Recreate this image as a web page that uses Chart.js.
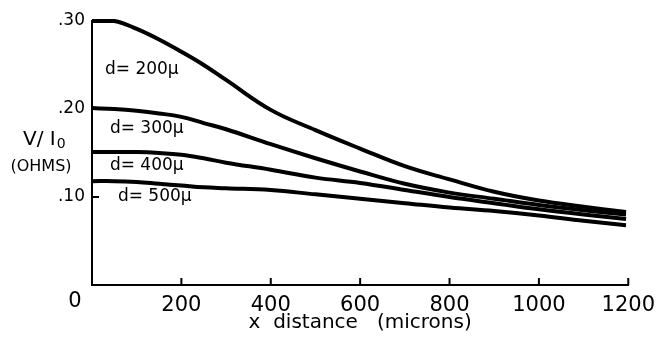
<!DOCTYPE html>
<html lang="en">
<head>
<meta charset="UTF-8">
<title>V/I0 vs x distance</title>
<script src="https://cdn.jsdelivr.net/npm/chart.js"></script>
<style>
  body { margin: 0; background: #fff; }
  #wrap { width: 663px; height: 337px; }
</style>
</head>
<body>
<div id="wrap"><canvas id="myChart" width="663" height="337"></canvas></div>
<script>
  // x positions (microns) where the curves were read
  const xValues = [0, 50, 100, 150, 200, 250, 300, 400, 500, 600, 700, 800, 900, 1000, 1100, 1195];
  // V/I0 (ohms) for each electrode spacing
  const d200 = [0.300, 0.300, 0.291, 0.279, 0.265, 0.250, 0.233, 0.199, 0.176, 0.155, 0.135, 0.120, 0.106, 0.096, 0.089, 0.083];
  const d300 = [0.201, 0.200, 0.198, 0.195, 0.191, 0.184, 0.177, 0.160, 0.144, 0.129, 0.115, 0.105, 0.098, 0.091, 0.085, 0.080];
  const d400 = [0.151, 0.151, 0.151, 0.150, 0.148, 0.144, 0.139, 0.131, 0.122, 0.116, 0.108, 0.100, 0.093, 0.086, 0.080, 0.075];
  const d500 = [0.118, 0.118, 0.117, 0.115, 0.113, 0.111, 0.110, 0.108, 0.103, 0.098, 0.093, 0.088, 0.084, 0.079, 0.073, 0.068];
  const seriesLabels = ['d= 200\u00b5', 'd= 300\u00b5', 'd= 400\u00b5', 'd= 500\u00b5'];
  const xTicks = [0, 200, 400, 600, 800, 1000, 1200];
  const yTickLabels = ['.10', '.20', '.30'];

  const FONT = '"DejaVu Sans", sans-serif';
  Chart.defaults.font.family = FONT;
  Chart.defaults.color = '#000';

  const toPoints = arr => xValues.map((xv, i) => ({ x: xv, y: arr[i] }));
  const allSeries = [d200, d300, d400, d500];

  // text placed next to each curve, in data space (x microns, y ohms)
  const labelAnchors = [[29, 0.245], [40, 0.178], [40, 0.136], [58, 0.100]];

  const extras = {
    id: 'extras',
    afterDraw(chart) {
      const { ctx, scales: { x, y } } = chart;
      ctx.save();
      ctx.strokeStyle = '#000';
      ctx.lineWidth = 2;
      // tick marks point inward
      xTicks.forEach(v => {
        if (v === 0) return;
        const px = x.getPixelForValue(v);
        ctx.beginPath(); ctx.moveTo(px, y.bottom); ctx.lineTo(px, y.bottom - 7); ctx.stroke();
      });
      [0.1, 0.2, 0.3].forEach(v => {
        const py = y.getPixelForValue(v);
        ctx.beginPath(); ctx.moveTo(x.left, py); ctx.lineTo(x.left + 7, py); ctx.stroke();
      });

      ctx.fillStyle = '#000';
      ctx.textBaseline = 'middle';

      // curve labels
      ctx.font = '17px ' + FONT;
      ctx.textAlign = 'left';
      seriesLabels.forEach((t, i) => {
        ctx.fillText(t, x.getPixelForValue(labelAnchors[i][0]), y.getPixelForValue(labelAnchors[i][1]));
      });

      // origin label
      ctx.font = '21px ' + FONT;
      ctx.textAlign = 'center';
      ctx.fillText('0', x.getPixelForValue(0) - 17, y.bottom + 17);

      // y axis title, horizontal
      const ty = y.getPixelForValue(0.165);
      ctx.font = '20px ' + FONT;
      ctx.textAlign = 'left';
      const tx = x.left - 69;
      ctx.fillText('V/ I', tx, ty);
      const w = ctx.measureText('V/ I').width;
      ctx.font = '14px ' + FONT;
      ctx.fillText('0', tx + w + 1, ty + 5);
      ctx.font = '16px ' + FONT;
      ctx.textAlign = 'center';
      ctx.fillText('(OHMS)', x.left - 51, y.getPixelForValue(0.134));
      ctx.restore();
    }
  };

  new Chart(document.getElementById('myChart'), {
    type: 'line',
    data: {
      datasets: allSeries.map((s, i) => ({
        label: seriesLabels[i],
        data: toPoints(s),
        borderColor: '#000',
        borderWidth: 4,
        pointRadius: 0,
        fill: false,
        clip: false,
        tension: 0.4
      }))
    },
    options: {
      responsive: false,
      animation: false,
      layout: { padding: { top: 21, right: 31, bottom: 0, left: 0 } },
      plugins: { legend: { display: false }, tooltip: { enabled: false } },
      scales: {
        x: {
          type: 'linear',
          min: 0,
          max: 1200,
          afterBuildTicks: s => { s.ticks = xTicks.map(v => ({ value: v })); },
          afterFit: s => { s.height = 52; },
          grid: { display: false, drawTicks: false },
          border: { display: true, color: '#000', width: 2 },
          ticks: {
            font: { size: 21 },
            padding: 8,
            maxRotation: 0,
            autoSkip: false,
            callback: v => (v === 0 ? '' : String(v))
          },
          title: {
            display: true,
            text: 'x  distance   (microns)',
            font: { size: 20 },
            padding: { top: 0, bottom: 2 }
          }
        },
        y: {
          min: 0,
          max: 0.3,
          afterBuildTicks: s => { s.ticks = [0, 0.1, 0.2, 0.3].map(v => ({ value: v })); },
          afterFit: s => { s.width = 92; },
          grid: { display: false, drawTicks: false },
          border: { display: true, color: '#000', width: 2 },
          ticks: {
            font: { size: 17 },
            padding: 7,
            callback: (v, i) => (i === 0 ? '' : yTickLabels[i - 1])
          }
        }
      }
    },
    plugins: [extras]
  });
</script>
</body>
</html>
